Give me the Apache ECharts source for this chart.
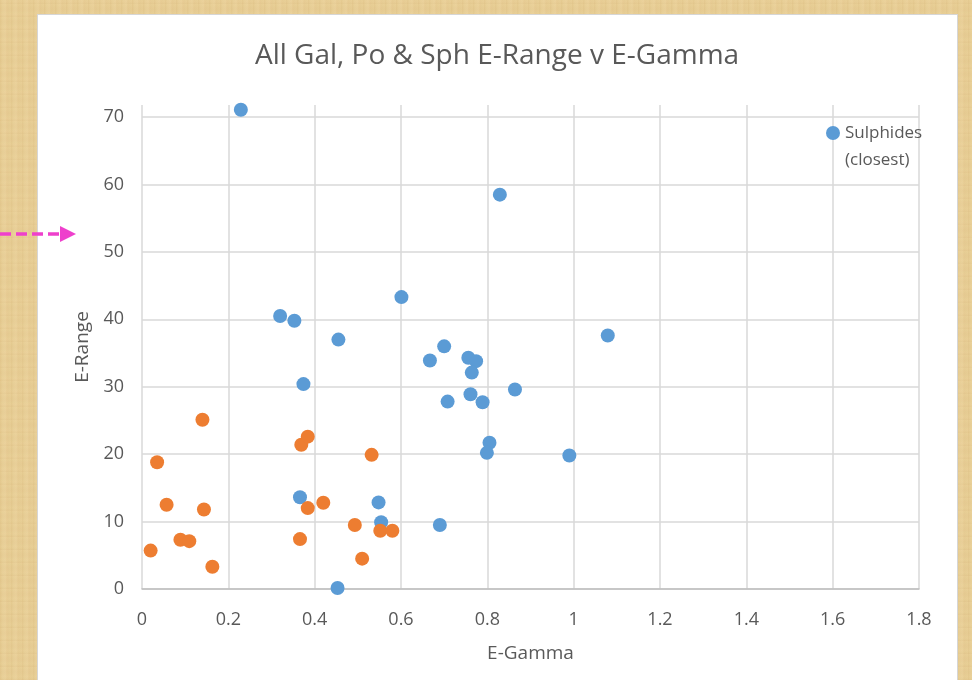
<!DOCTYPE html>
<html>
<head>
<meta charset="utf-8">
<script src="https://cdn.jsdelivr.net/npm/echarts@6/dist/echarts.min.js"></script>
<style>
  html, body { margin: 0; padding: 0; width: 972px; height: 680px; overflow: hidden; }
  body {
    background-color: #e9cf97;
    background-image:
      repeating-linear-gradient(90deg, rgba(170,125,50,0.08) 0px, rgba(170,125,50,0.0) 2px, rgba(255,242,205,0.10) 5px, rgba(170,125,50,0.03) 7px, rgba(170,125,50,0.0) 11px),
      repeating-linear-gradient(0deg, rgba(150,110,40,0.06) 0px, rgba(255,240,200,0.0) 3px, rgba(150,110,40,0.04) 8px, rgba(255,240,200,0.0) 13px);
  }
  #panel { position: absolute; left: 37px; top: 14px; width: 921px; height: 700px; background: #fff; border: 1px solid #d6d6d6; box-sizing: border-box; }
  #chart { position: absolute; left: 0; top: 0; width: 972px; height: 680px; }
</style>
</head>
<body>
<div id="panel"></div>
<div id="chart"></div>
<script>
// Data
const titleText = 'All Gal, Po & Sph E-Range v E-Gamma';
const xAxisName = 'E-Gamma';
const yAxisName = 'E-Range';
const sulphidesName = 'Sulphides (closest)';
const otherName = 'Series 2';

const sulphidesX = [0.229, 0.320, 0.353, 0.455, 0.374, 0.601, 0.829, 1.079, 0.667, 0.700, 0.756, 0.774, 0.764, 0.708, 0.761, 0.789, 0.864, 0.805, 0.799, 0.990, 0.366, 0.548, 0.554, 0.690, 0.453];
const sulphidesY = [71.1, 40.5, 39.8, 37.0, 30.4, 43.3, 58.5, 37.6, 33.9, 36.0, 34.3, 33.8, 32.1, 27.8, 28.9, 27.7, 29.6, 21.7, 20.2, 19.8, 13.6, 12.85, 9.9, 9.5, 0.15];

const otherX = [0.140, 0.035, 0.057, 0.1435, 0.089, 0.1095, 0.020, 0.163, 0.369, 0.384, 0.532, 0.420, 0.384, 0.366, 0.493, 0.552, 0.580, 0.510];
const otherY = [25.1, 18.8, 12.5, 11.8, 7.3, 7.1, 5.7, 3.3, 21.4, 22.6, 19.9, 12.8, 12.0, 7.4, 9.5, 8.65, 8.65, 4.5];

const xMin = 0, xMax = 1.8, xStep = 0.2;
const yMin = 0, yMax = 71.8, yStep = 10;

const zip = (xs, ys) => xs.map((x, i) => [x, ys[i]]);

const FONT = 'Open Sans';
const TEXT = '#595959';
const GRID = '#d9d9d9';

const chart = echarts.init(document.getElementById('chart'), null, { renderer: 'canvas' });
chart.setOption({
  animation: false,
  backgroundColor: 'transparent',
  textStyle: { fontFamily: FONT },
  title: {
    text: titleText,
    left: 255,
    top: 42,
    padding: 0,
    textStyle: { fontFamily: FONT, fontSize: 28, fontWeight: 'normal', color: TEXT }
  },
  grid: { left: 142, right: 53, top: 105, bottom: 91, containLabel: false },
  legend: {
    data: [sulphidesName],
    left: 826,
    top: 92.5,
    padding: 0,
    itemWidth: 14,
    itemHeight: 14,
    icon: 'circle',
    formatter: () => ' \nSulphides\n(closest)',
    textStyle: { fontFamily: FONT, fontSize: 17, color: TEXT, lineHeight: 27 }
  },
  xAxis: {
    type: 'value',
    min: xMin, max: xMax, interval: xStep,
    name: xAxisName,
    nameLocation: 'middle',
    nameGap: 55,
    nameTextStyle: { fontFamily: FONT, fontSize: 19, color: TEXT },
    axisLine: { show: true, lineStyle: { color: '#bfbfbf', width: 1.5 } },
    axisTick: { show: false },
    axisLabel: { fontFamily: FONT, fontSize: 18, color: TEXT, margin: 22, formatter: v => String(Math.round(v * 10) / 10) },
    splitLine: { show: true, lineStyle: { color: GRID, width: 1.5 } }
  },
  yAxis: {
    type: 'value',
    min: yMin, max: yMax, interval: yStep,
    name: yAxisName,
    nameLocation: 'middle',
    nameGap: 49,
    nameTextStyle: { fontFamily: FONT, fontSize: 19, color: TEXT },
    axisLine: { show: false },
    axisTick: { show: false },
    axisLabel: { fontFamily: FONT, fontSize: 18, color: TEXT, margin: 18, showMaxLabel: false },
    splitLine: { show: true, showMaxLine: false, lineStyle: { color: GRID, width: 1.5 } }
  },
  series: [
    {
      name: sulphidesName,
      type: 'scatter',
      symbol: 'circle',
      symbolSize: 14,
      itemStyle: { color: '#5b9bd5', opacity: 1 },
      data: zip(sulphidesX, sulphidesY)
    },
    {
      name: otherName,
      type: 'scatter',
      symbol: 'circle',
      symbolSize: 14,
      itemStyle: { color: '#ed7d31', opacity: 1 },
      data: zip(otherX, otherY)
    }
  ],
  graphic: [
    {
      type: 'line',
      shape: { x1: 0, y1: 234, x2: 62, y2: 234 },
      style: { stroke: '#ee40cc', lineWidth: 3.5, lineDash: [11, 5] },
      silent: true
    },
    {
      type: 'polygon',
      shape: { points: [[60, 226], [76, 234], [60, 242]] },
      style: { fill: '#ee40cc' },
      silent: true
    }
  ]
});
</script>
</body>
</html>
